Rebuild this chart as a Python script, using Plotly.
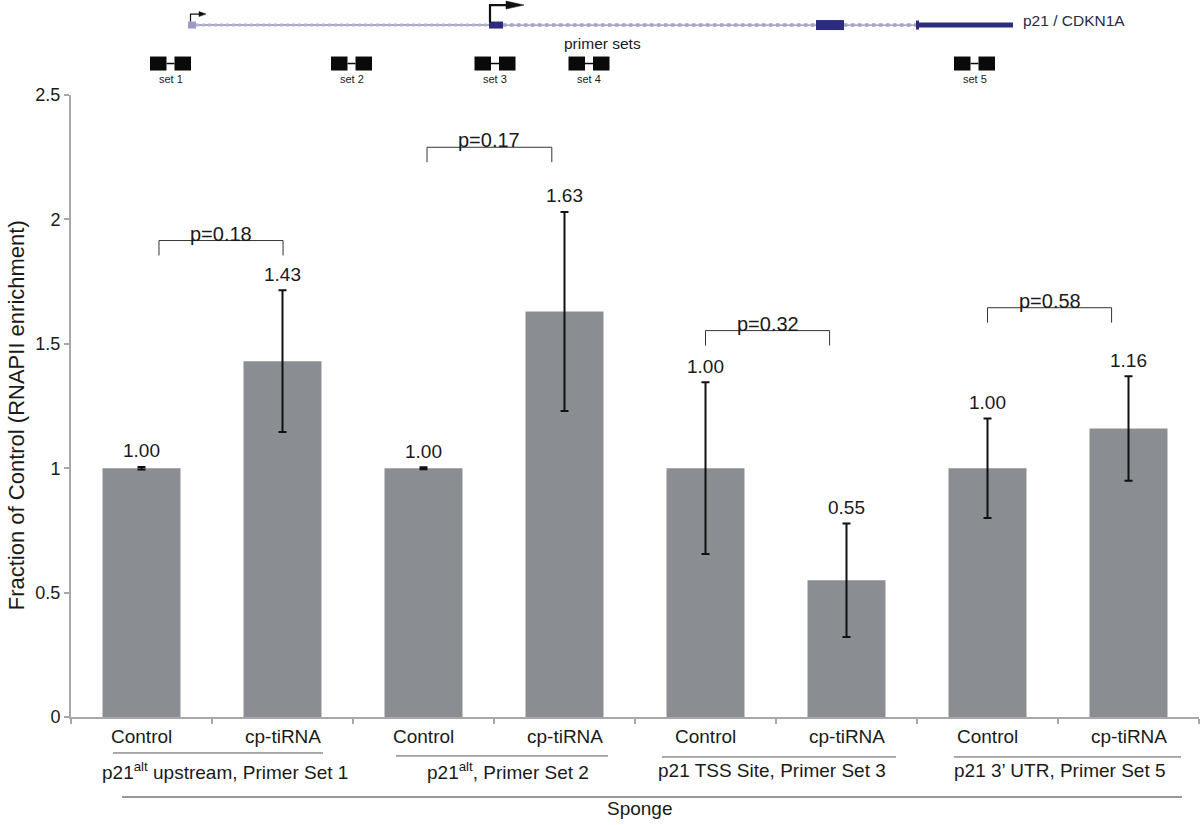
import plotly.graph_objects as go

# ---------------- data ----------------
conditions = ["Control", "cp-tiRNA", "Control", "cp-tiRNA",
              "Control", "cp-tiRNA", "Control", "cp-tiRNA"]
values = [1.00, 1.43, 1.00, 1.63, 1.00, 0.55, 1.00, 1.16]
errors = [0.005, 0.285, 0.004, 0.40, 0.345, 0.228, 0.20, 0.21]
value_labels = ["1.00", "1.43", "1.00", "1.63", "1.00", "0.55", "1.00", "1.16"]
groups = ["p21<sup>alt</sup> upstream, Primer Set 1",
          "p21<sup>alt</sup>, Primer Set 2",
          "p21 TSS Site, Primer Set 3",
          "p21 3\u2019 UTR, Primer Set 5"]
p_values = ["p=0.18", "p=0.17", "p=0.32", "p=0.58"]
p_levels = [1.915, 2.29, 1.553, 1.645]
supergroup = "Sponge"
yticks = [0, 0.5, 1, 1.5, 2, 2.5]
ytick_text = ["0", "0.5", "1", "1.5", "2", "2.5"]
primer_sets = ["set 1", "set 2", "set 3", "set 4", "set 5"]

# ---------------- layout geometry (pixels) ----------------
W, H = 1200, 825
L, R, T, B = 71, 1, 94.5, 108
PW, PH = W - L - R, H - T - B
FONT = "Liberation Sans, Arial, Helvetica, sans-serif"
TXT = "#1a1a1a"
BAR = "#8a8d92"
AXC = "#a8a8a8"


def px(x):
    return (x - L) / PW


def py(y):
    return (H - B - y) / PH


def label(xp, yp, text, size, color=TXT, xanchor="center", angle=0):
    return dict(x=px(xp), y=py(yp), xref="paper", yref="paper", text=text,
                xanchor=xanchor, yanchor="middle", showarrow=False, textangle=angle,
                font=dict(family=FONT, size=size, color=color))


x = list(range(len(values)))

fig = go.Figure()
fig.add_trace(go.Bar(
    x=x, y=values, marker=dict(color=BAR, line=dict(width=0)),
    error_y=dict(type="data", array=errors, visible=True, color="#111111",
                 thickness=2, width=4),
    width=0.553, showlegend=False, hoverinfo="skip"))

annotations = []
shapes = []

# value labels
for i, (v, e, t) in enumerate(zip(values, errors, value_labels)):
    annotations.append(dict(x=i, y=v + e, xref="x", yref="y", text=t, showarrow=False,
                            xanchor="center", yanchor="middle", yshift=16,
                            font=dict(family=FONT, size=19, color=TXT)))

# condition labels
for i, c in enumerate(conditions):
    annotations.append(dict(x=i, y=py(737), xref="x", yref="paper", text=c, showarrow=False,
                            xanchor="center", yanchor="middle",
                            font=dict(family=FONT, size=19, color=TXT)))

# significance brackets
left_off = [0.124, 0.025, 0.0, 0.0]
right_off = [0.004, -0.09, -0.12, -0.12]
for g, (p, lev) in enumerate(zip(p_values, p_levels)):
    x0 = 2 * g + left_off[g]
    x1 = 2 * g + 1 + right_off[g]
    drop = 0.06
    shapes.append(dict(type="path", xref="x", yref="y",
                       path=f"M {x0} {lev - drop} L {x0} {lev} L {x1} {lev} L {x1} {lev - drop}",
                       line=dict(color="#333333", width=1)))
    annotations.append(dict(x=(x0 + x1) / 2, y=lev, xref="x", yref="y", text=p, showarrow=False,
                            xanchor="center", yanchor="middle", yshift=7,
                            font=dict(family=FONT, size=20, color=TXT)))

# group lines and labels
group_lines = [(113, 323, 753), (396, 608, 756), (662, 896, 757), (954, 1181, 757)]
group_centers = [225, 508, 772, 1060]
for (a, b, yy), gname, gc in zip(group_lines, groups, group_centers):
    shapes.append(dict(type="line", xref="paper", yref="paper", x0=px(a), x1=px(b),
                       y0=py(yy), y1=py(yy), line=dict(color="#555555", width=1)))
    annotations.append(label(gc, 771, gname, 19))
shapes.append(dict(type="line", xref="paper", yref="paper", x0=px(122), x1=px(1182),
                   y0=py(797), y1=py(797), line=dict(color="#777777", width=1.5)))
annotations.append(label(640, 809, supergroup, 19))

# y axis title
annotations.append(label(16, 415, "Fraction of Control (RNAPII enrichment)", 22, angle=-90))


# ---------------- gene diagram (top) ----------------
def rect(x0, x1, y0, y1, color):
    shapes.append(dict(type="rect", xref="paper", yref="paper", x0=px(x0), x1=px(x1),
                       y0=py(y1), y1=py(y0), fillcolor=color, line=dict(width=0)))


def hline(x0, x1, yy, color, width, dash="solid"):
    shapes.append(dict(type="line", xref="paper", yref="paper", x0=px(x0), x1=px(x1),
                       y0=py(yy), y1=py(yy), line=dict(color=color, width=width, dash=dash)))


def path(pts, color, width, fill=None, close=False):
    d = "M " + " L ".join(f"{px(a)} {py(b)}" for a, b in pts) + (" Z" if close else "")
    s = dict(type="path", xref="paper", yref="paper", path=d,
             line=dict(color=color, width=width))
    if fill:
        s["fillcolor"] = fill
    shapes.append(s)


GY = 24.5
NAVY = "#2d2b7c"
INTRON = "#8a8ab4"
hline(196, 489, GY, INTRON, 1.5)
hline(196, 489, GY, "#b4b4d2", 3, "dot")
hline(503, 816, GY, INTRON, 1.2)
hline(503, 816, GY, "#a4a4c6", 3.5, "dot")
hline(844, 916, GY, INTRON, 1.2)
hline(844, 916, GY, "#a4a4c6", 3.5, "dot")
rect(188, 196, 21, 28, "#9c9cc8")
rect(489, 503, 21, 28, NAVY)
rect(816, 844, 19.5, 29.5, NAVY)
rect(916, 919, 20, 29, NAVY)
rect(919, 1013, 22, 27, NAVY)
# TSS arrows
path([(190.5, 21), (190.5, 13.5), (200, 13.5)], "#111111", 1.2)
path([(199, 11), (206, 13.5), (199, 16)], "#111111", 0.5, fill="#111111", close=True)
path([(490, 22), (490, 4.5), (507, 4.5)], "#111111", 2.2)
path([(506, 0.5), (524, 4.5), (506, 8.5)], "#111111", 0.5, fill="#111111", close=True)
annotations.append(label(1021, 20, "p21 / CDKN1A", 15.5, color="#2a2a44", xanchor="left"))
annotations.append(label(602, 43, "primer sets", 15.5))
primer_x = [170.5, 351.5, 495, 589, 974.5]
for cx, lab in zip(primer_x, primer_sets):
    rect(cx - 20.5, cx - 4, 56, 70, "#0a0a0a")
    rect(cx + 4, cx + 20.5, 56, 70, "#0a0a0a")
    hline(cx - 4, cx + 4, 63, "#0a0a0a", 1.5)
    annotations.append(label(cx, 78, lab, 11))

fig.update_layout(
    width=W, height=H,
    margin=dict(l=L, r=R, t=T, b=B, pad=0),
    paper_bgcolor="white", plot_bgcolor="white",
    font=dict(family=FONT, size=18, color=TXT),
    bargap=0.447,
    xaxis=dict(range=[-0.5, 7.5], showgrid=False, zeroline=False, showline=True,
               linecolor=AXC, linewidth=2, showticklabels=False,
               tickmode="array", tickvals=[i - 0.5 for i in range(9)],
               ticks="outside", ticklen=5, tickcolor=AXC, tickwidth=1.5),
    yaxis=dict(range=[0, 2.5], showgrid=False, zeroline=False, showline=True,
               linecolor=AXC, linewidth=2, tickmode="array", tickvals=yticks,
               ticktext=ytick_text, ticks="outside", ticklen=5, tickcolor=AXC,
               tickwidth=1.5, tickfont=dict(family=FONT, size=18, color=TXT)),
    annotations=annotations,
    shapes=shapes,
)

fig.write_html("out.html", config={"displayModeBar": False},
               post_script="document.body.style.margin='0';")
